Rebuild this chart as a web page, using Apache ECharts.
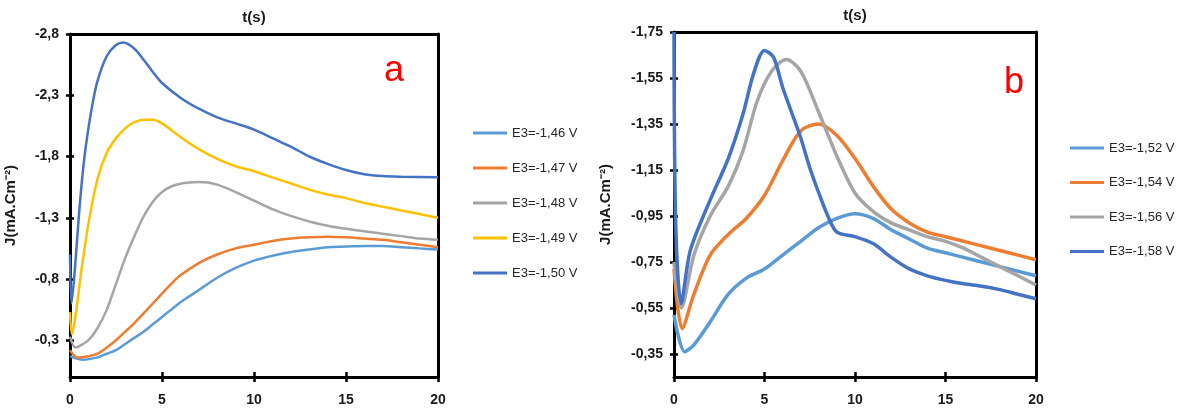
<!DOCTYPE html>
<html>
<head>
<meta charset="utf-8">
<script src="https://cdn.jsdelivr.net/npm/echarts@6/dist/echarts.min.js"></script>
<style>
  html, body { margin: 0; padding: 0; background: #fff; }
  #chart { width: 1178px; height: 414px; }
</style>
</head>
<body>
<div id="chart"></div>
<script>
// panel a: [t (s), J (mA.cm-2)]
const a146 = [[0,-0.17],[0.7,-0.14],[1.5,-0.16],[2,-0.19],[2.5,-0.22],[3,-0.27],[3.5,-0.32],[4,-0.37],[4.5,-0.43],[5,-0.49],[5.5,-0.55],[6,-0.61],[6.5,-0.66],[7,-0.71],[8,-0.81],[9,-0.89],[10,-0.95],[11,-0.99],[12,-1.02],[13,-1.04],[14,-1.06],[15,-1.065],[16,-1.07],[17,-1.07],[18,-1.06],[19,-1.05],[20,-1.04]];
const a147 = [[0,-0.22],[0.4,-0.16],[1,-0.17],[1.5,-0.19],[2,-0.24],[2.5,-0.30],[3,-0.37],[3.5,-0.44],[4,-0.52],[4.5,-0.60],[5,-0.68],[5.5,-0.76],[6,-0.83],[7,-0.93],[8,-1.00],[9,-1.05],[10,-1.08],[11,-1.11],[12,-1.13],[13,-1.14],[14,-1.145],[15,-1.14],[16,-1.13],[17,-1.12],[18,-1.10],[19,-1.08],[20,-1.06]];
const a148 = [[0,-0.33],[0.3,-0.24],[0.6,-0.26],[1,-0.30],[1.5,-0.40],[2,-0.55],[2.5,-0.76],[3,-0.97],[3.5,-1.15],[4,-1.31],[4.5,-1.43],[5,-1.51],[5.5,-1.555],[6,-1.578],[6.5,-1.588],[7,-1.592],[7.5,-1.588],[8,-1.57],[9,-1.51],[10,-1.44],[11,-1.37],[12,-1.315],[13,-1.27],[14,-1.235],[15,-1.21],[16,-1.19],[17,-1.17],[18,-1.15],[19,-1.13],[20,-1.12]];
const a149 = [[0,-0.53],[0.1,-0.35],[0.3,-0.50],[0.6,-0.85],[1,-1.25],[1.5,-1.62],[2,-1.83],[2.5,-1.95],[3,-2.03],[3.5,-2.08],[4,-2.10],[4.5,-2.10],[5,-2.07],[6,-1.96],[7,-1.86],[8,-1.78],[9,-1.72],[10,-1.68],[11,-1.63],[12,-1.58],[13,-1.53],[14,-1.49],[15,-1.46],[16,-1.42],[17,-1.39],[18,-1.36],[19,-1.33],[20,-1.30]];
const a150 = [[0,-1.00],[0.08,-0.60],[0.25,-0.85],[0.5,-1.35],[0.75,-1.75],[1,-2.03],[1.25,-2.25],[1.5,-2.42],[2,-2.62],[2.5,-2.71],[2.9,-2.73],[3.5,-2.68],[4,-2.59],[4.5,-2.49],[5,-2.40],[6,-2.28],[7,-2.19],[8,-2.12],[9,-2.07],[10,-2.02],[11,-1.95],[12,-1.88],[13,-1.80],[14,-1.74],[15,-1.69],[16,-1.655],[17,-1.64],[18,-1.635],[20,-1.63]];

// panel b
const b152 = [[0,-0.52],[0.6,-0.36],[1.1,-0.39],[2,-0.49],[3,-0.61],[4,-0.68],[5,-0.72],[6,-0.78],[7,-0.84],[8,-0.90],[9,-0.94],[10,-0.96],[11,-0.94],[12,-0.89],[13,-0.85],[14,-0.81],[15,-0.79],[16,-0.77],[17,-0.75],[18,-0.73],[19,-0.71],[20,-0.69]];
const b154 = [[0,-0.72],[0.45,-0.46],[1.1,-0.61],[2,-0.78],[3,-0.87],[4,-0.94],[5,-1.04],[6,-1.19],[7,-1.32],[8,-1.35],[9,-1.30],[10,-1.20],[11,-1.08],[12,-0.98],[13,-0.92],[14,-0.88],[15,-0.86],[16,-0.84],[17,-0.82],[18,-0.80],[19,-0.78],[20,-0.76]];
const b156 = [[0,-0.75],[0.4,-0.55],[1.1,-0.78],[2,-0.95],[3,-1.08],[3.8,-1.23],[4.6,-1.45],[5.4,-1.58],[6.2,-1.63],[7,-1.58],[8,-1.40],[9,-1.21],[10,-1.05],[11,-0.97],[12,-0.92],[13,-0.89],[14,-0.86],[15,-0.84],[16,-0.81],[17,-0.77],[18,-0.73],[19,-0.69],[20,-0.65]];
const b158 = [[0,-1.75],[0.1,-0.90],[0.4,-0.57],[0.9,-0.80],[2,-1.02],[3,-1.20],[3.8,-1.39],[4.4,-1.57],[5,-1.67],[5.5,-1.64],[6,-1.51],[6.5,-1.40],[7,-1.29],[7.5,-1.16],[8,-1.05],[8.5,-0.95],[9,-0.88],[10,-0.86],[11,-0.83],[12,-0.77],[13,-0.72],[14,-0.69],[15,-0.67],[16,-0.655],[17,-0.645],[18,-0.63],[19,-0.61],[20,-0.59]];

const namesA = ['E3=-1,46 V', 'E3=-1,47 V', 'E3=-1,48 V', 'E3=-1,49 V', 'E3=-1,50 V'];
const namesB = ['E3=-1,52 V', 'E3=-1,54 V', 'E3=-1,56 V', 'E3=-1,58 V'];
const ticksA = [-2.8, -2.3, -1.8, -1.3, -0.8, -0.3];
const ticksB = [-1.75, -1.55, -1.35, -1.15, -0.95, -0.75, -0.55, -0.35];

const colorsA = ['#5B9BD5', '#ED7D31', '#A5A5A5', '#FFC000', '#4472C4'];
const colorsB = ['#5B9BD5', '#ED7D31', '#A5A5A5', '#4472C4'];

const FONT = "'Liberation Sans', Arial, sans-serif";
const black = '#000';
const labelStyle = { fontSize: 14, fontWeight: 'bold', color: '#1a1a1a', fontFamily: FONT };
const nameStyle = { fontSize: 15, fontWeight: 'bold', color: '#1a1a1a', fontFamily: FONT };

function xAxes(g) {
  const base = { gridIndex: g, type: 'value', min: 0, max: 20, interval: 5, splitLine: { show: false } };
  return [
    Object.assign({}, base, {
      position: 'bottom',
      axisLine: { show: true, onZero: false, lineStyle: { color: black, width: 3 } },
      axisTick: { show: false },
      axisLabel: Object.assign({ margin: 16 }, labelStyle)
    }),
    // cross ticks
    Object.assign({}, base, {
      position: 'bottom', offset: -5,
      axisLine: { show: false, onZero: false },
      axisTick: { show: true, length: 10, lineStyle: { color: black, width: 2.5 } },
      axisLabel: { show: false }
    }),
    Object.assign({}, base, {
      position: 'top',
      axisLine: { show: true, onZero: false, lineStyle: { color: black, width: 3 } },
      axisTick: { show: false },
      axisLabel: { show: false },
      name: 't(s)', nameLocation: 'middle', nameGap: 9, nameTextStyle: nameStyle
    })
  ];
}

function yAxes(g, min, max, ticks, digits, nameGap) {
  const base = { gridIndex: g, type: 'value', min: min, max: max, inverse: true, splitLine: { show: false } };
  return [
    Object.assign({}, base, {
      position: 'left',
      axisLine: { show: true, onZero: false, lineStyle: { color: black, width: 3 } },
      axisTick: { show: false },
      axisLabel: Object.assign({
        margin: 11,
        customValues: ticks,
        formatter: v => v.toFixed(digits).replace('.', ',')
      }, labelStyle),
      name: 'J(mA.Cm\u207B\u00B2)', nameLocation: 'middle', nameGap: nameGap, nameTextStyle: nameStyle
    }),
    Object.assign({}, base, {
      position: 'left', offset: -4,
      axisLine: { show: false, onZero: false },
      axisTick: { show: true, length: 8, customValues: ticks, lineStyle: { color: black, width: 2.5 } },
      axisLabel: { show: false }
    }),
    Object.assign({}, base, {
      position: 'right',
      axisLine: { show: true, onZero: false, lineStyle: { color: black, width: 3 } },
      axisTick: { show: false },
      axisLabel: { show: false }
    })
  ];
}

function lineSeries(name, data, color, axisIdx, width) {
  return {
    name: name, type: 'line', data: data,
    xAxisIndex: axisIdx, yAxisIndex: axisIdx,
    showSymbol: false, symbol: 'none',
    smooth: 0.3,
    itemStyle: { color: color },
    lineStyle: { color: color, width: width },
    z: 3
  };
}

const seriesA = [a146, a147, a148, a149, a150].map((d, i) => lineSeries(namesA[i], d, colorsA[i], 0, 2.5));
const seriesB = [b152, b154, b156, b158].map((d, i) => lineSeries(namesB[i], d, colorsB[i], 3, 3.5));

const legendBase = {
  orient: 'vertical', icon: 'rect', itemWidth: 34, itemHeight: 3, padding: 0,
  textStyle: { fontSize: 13, color: '#262626', fontFamily: FONT, lineHeight: 14 }
};

const chart = echarts.init(document.getElementById('chart'));
chart.setOption({
  animation: false,
  backgroundColor: '#fff',
  grid: [
    { left: 70, top: 34, width: 368, height: 343 },
    { left: 674, top: 32, width: 362, height: 345 }
  ],
  xAxis: xAxes(0).concat(xAxes(1)),
  yAxis: yAxes(0, -2.8, 0, ticksA, 1, 52).concat(yAxes(1, -1.75, -0.25, ticksB, 2, 61)),
  legend: [
    Object.assign({}, legendBase, { data: namesA, left: 473, top: 126, itemGap: 21 }),
    Object.assign({}, legendBase, { data: namesB, left: 1070, top: 141, itemGap: 20.5 })
  ],
  graphic: [
    { type: 'text', x: 394, y: 71, style: { text: 'a', fill: '#ff0000', fontSize: 36, fontFamily: FONT, align: 'center', verticalAlign: 'middle' } },
    { type: 'text', x: 1014, y: 83, style: { text: 'b', fill: '#ff0000', fontSize: 36, fontFamily: FONT, align: 'center', verticalAlign: 'middle' } }
  ],
  series: seriesA.concat(seriesB)
});
</script>
</body>
</html>
